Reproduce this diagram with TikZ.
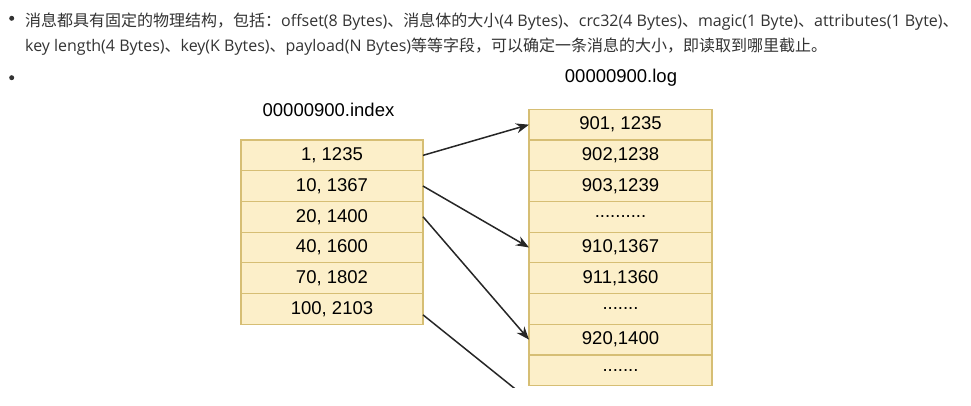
\documentclass[tikz,border=0pt]{standalone}
\usepackage{fontspec}
\setmainfont{Open Sans}
\newfontfamily\cjk{Noto Sans CJK SC}
\newfontfamily\helv{Liberation Sans}
\usetikzlibrary{positioning,arrows.meta}
\definecolor{cellfill}{HTML}{FCEFC9}
\definecolor{cellline}{HTML}{D6BE74}
\definecolor{ink}{HTML}{333333}

\begin{document}
\begin{tikzpicture}[x=1pt, y=-1pt,
	cell/.style={draw=cellline, fill=cellfill, line width=1.2pt, outer sep=0pt, inner sep=0pt, minimum height=30.7pt, font=\helv\fontsize{18.5}{18.5}\selectfont},
	icell/.style={cell, minimum width=182pt},
	lcell/.style={cell, minimum width=183pt},
	title/.style={font=\helv\fontsize{18.5}{18.5}\selectfont},
	link/.style={-{Stealth[length=13pt, width=10pt]}, line width=1.5pt, draw=black!85},
	para/.style={anchor=base west, inner sep=0pt, text=ink, font=\fontsize{16}{16}\selectfont},
	dot/.style={circle, fill=ink, inner sep=0pt, minimum size=5pt}]
		\useasboundingbox (0,0) rectangle (971,405);

		\node[dot] (b1) at (11.7,18.3) {};
		\node[para] (line1) at (25,26) {{\cjk 消息都具有固定的物理结构，包括：}offset(8 Bytes){\cjk 、消息体的大小}(4 Bytes){\cjk 、}crc32(4 Bytes){\cjk 、}magic(1 Byte){\cjk 、}attributes(1 Byte){\cjk 、}};
		\node[para] (line2) at (25,51) {key length(4 Bytes){\cjk 、}key(K Bytes){\cjk 、}payload(N Bytes){\cjk 等等字段，可以确定一条消息的大小，即读取到哪里截止。}};
		\node[dot] (b2) at (11.7,77.7) {};

		\begin{scope}
		\clip (0,0) rectangle (971,387);

		% index file
		\node[title] (ititle) at (328.5,110) {00000900.index};
		\node[icell] (i1) at (332,155.35) {1, 1235};
		\node[icell, below=0pt of i1] (i2) {10, 1367};
		\node[icell, below=0pt of i2] (i3) {20, 1400};
		\node[icell, below=0pt of i3] (i4) {40, 1600};
		\node[icell, below=0pt of i4] (i5) {70, 1802};
		\node[icell, below=0pt of i5] (i6) {100, 2103};

		% log file
		\node[title] (ltitle) at (621,78) {00000900.log};
		\node[lcell] (l1) at (620.5,124.65) {901, 1235};
		\node[lcell, below=0pt of l1] (l2) {902,1238};
		\node[lcell, below=0pt of l2] (l3) {903,1239};
		\node[lcell, below=0pt of l3] (l4) {..........};
		\node[lcell, below=0pt of l4] (l5) {910,1367};
		\node[lcell, below=0pt of l5] (l6) {911,1360};
		\node[lcell, below=0pt of l6] (l7) {.......};
		\node[lcell, below=0pt of l7] (l8) {920,1400};
		\node[lcell, below=0pt of l8] (l9) {.......};

		\coordinate (tail) at (529,400);
		\draw[link] (i1.east) -- (l1.west);
		\draw[link] (i2.east) -- (l5.west);
		\draw[link] (i3.east) -- (l8.west);
		\draw[link] ([yshift=-6pt]i6.east) -- (tail);
		\end{scope}
	\end{tikzpicture}
\end{document}
